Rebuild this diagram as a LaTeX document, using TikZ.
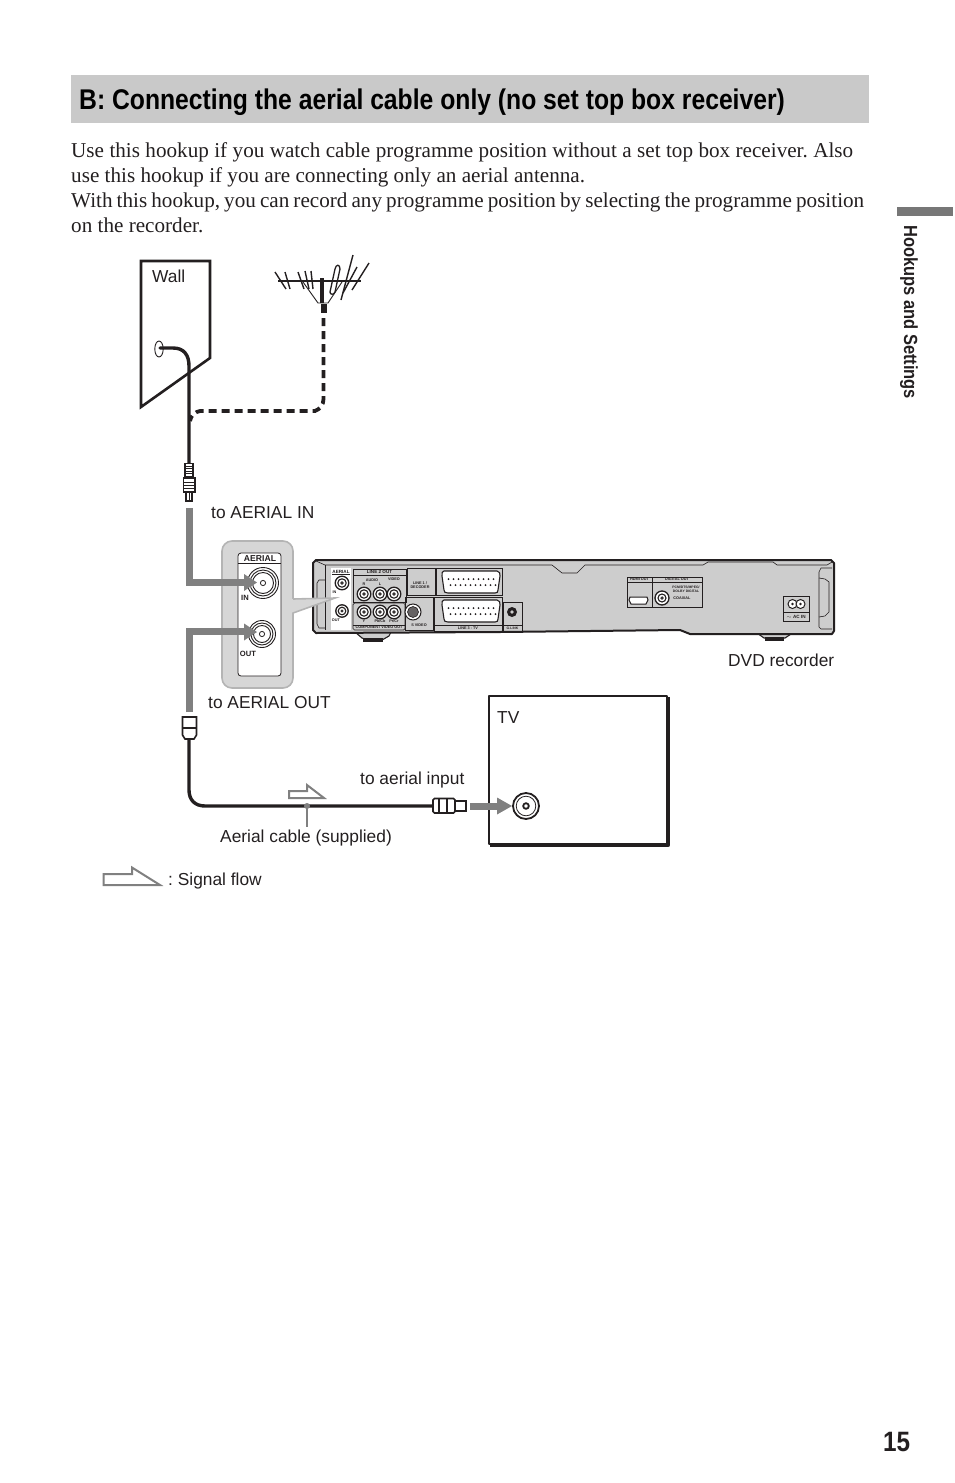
\documentclass[tikz,border=0pt]{standalone}
\usepackage{fontspec}
\setmainfont{Liberation Sans}
\newfontfamily\bodyfont{Liberation Serif}
\newfontfamily\headfont[FakeStretch=0.867]{Liberation Sans Bold}
\usetikzlibrary{arrows.meta}
\definecolor{barfill}{HTML}{C9C9C9}
\definecolor{sidebar}{HTML}{777777}
\definecolor{flow}{HTML}{808080}
\definecolor{panel}{HTML}{D6D6D6}
\definecolor{panelline}{HTML}{B4B4B4}
\definecolor{case}{HTML}{CDCDCD}
\definecolor{ink}{HTML}{231F20}
\newcommand{\jackmark}[3]{% centre, outer radius, inner radius
  \fill[white,draw=ink,line width=1.3pt] (#1) circle (#2);
  \draw[ink,line width=1.1pt] (#1) circle (#3);
  \draw[ink,line width=.8pt] (#1) circle (#3*.3);}
\tikzset{
  body/.style={font=\fontsize{21.15}{25}\bodyfont,anchor=base west,inner sep=0pt,text=ink},
  lab/.style={font=\fontsize{17.35}{20}\selectfont,anchor=base west,inner sep=0pt,text=ink},
  tiny/.style={font=\fontsize{4.6}{5.2}\selectfont\bfseries,inner sep=0pt,text=ink,align=center},
  micro/.style={font=\fontsize{3.8}{4.2}\selectfont\bfseries,inner sep=0pt,text=ink,align=center},
  cablewire/.style={ink,line width=3.4pt,line cap=round},
  dashwire/.style={ink,line width=3.8pt,dash pattern=on 8pt off 5pt},
  flowline/.style={flow,line width=7pt},
  flowhead/.style={fill=flow,draw=none},
  outline/.style={draw=flow,fill=white,line width=2pt,line join=miter},
  thinbox/.style={draw=ink,line width=.7pt},
  plugpart/.style={draw=ink,fill=white,line width=1.3pt},
}
\frenchspacing
\begin{document}
\begin{tikzpicture}[x=1pt,y=-1pt]
\useasboundingbox (0,0) rectangle (954,1483);
% heading and text
\fill[barfill] (71,75) rectangle (869,123);
\node[anchor=base west,inner sep=0pt,font=\fontsize{28.5}{30}\headfont,text=black] (title) at (79,109) {B: Connecting the aerial cable only (no set top box receiver)};
\node[body] (l1) at (71,157) {\makebox[782pt][s]{Use this hookup if you watch cable programme position without a set top box receiver. Also}};
\node[body] (l2) at (71,182) {use this hookup if you are connecting only an aerial antenna.};
\node[body] (l3) at (71,207) {\makebox[793pt][s]{With this hookup, you can record any programme position by selecting the programme position}};
\node[body] (l4) at (71,232) {on the recorder.};
\fill[sidebar] (897,207) rectangle (953,216);
\node[rotate=-90,anchor=base west,inner sep=0pt,font=\fontsize{19}{20}\headfont,text=ink] (side) at (904,225) {Hookups and Settings};
\node[anchor=base west,inner sep=0pt,font=\fontsize{28}{30}\headfont,text=ink] (page) at (883,1451) {15};

% wall
\draw[ink,line width=2.6pt,line join=miter] (141,261) -- (210,261) -- (210,358) -- (141,407) -- cycle;
\node[lab,anchor=base west] (wall) at (152,282) {Wall};
\draw[ink,line width=.9pt,fill=white] (159,349) ellipse (4.2 and 8);
\coordinate (hole) at (160,348);
\coordinate (plugin) at (189,464);
\draw[cablewire] (hole) -- (173,348) .. controls (184,348) and (189,355) .. (189,366) -- (plugin);
\draw[plugpart] (185,463.5) rectangle (193,477);
\foreach \yy in {466,468.5,471,473.5} \draw[ink,line width=.7pt] (185,\yy) -- (193,\yy);
\draw[plugpart] (183.5,478) rectangle (195,492);
\foreach \yy in {482,485,488} \draw[ink,line width=.7pt] (183.5,\yy) -- (195,\yy);
\draw[plugpart] (186,492) rectangle (192,501);
\draw[ink,line width=.7pt] (189,492) -- (189,501);

% antenna
\draw[ink,line width=1.5pt] (278,281) -- (361,281);
\foreach \xa/\ya/\xb/\yb in {275/272/286/289, 285/272/290/289, 298/272/304/289, 305/271/309/289, 311/271/313/289, 353/255/341/300, 357/267/343/293, 369/263/352/290}
  \draw[ink,line width=1.4pt] (\xa,\ya) -- (\xb,\yb);
\draw[ink,line width=1.3pt] (330,292) -- (335,269) .. controls (336,264) and (340,264) .. (340,269) -- (335,292) .. controls (334,295) and (330,295) .. (330,292);
\draw[ink,line width=.9pt] (303,282) -- (318,303) -- (328,303) -- (342,282);
\draw[ink,line width=3.4pt] (322,278) -- (322,303);
\coordinate (mast) at (323.5,304);
\coordinate (wirejoin) at (190,421);
\draw[ink,line width=6pt] (mast) -- (323.5,313);
\draw[dashwire] (323.5,318) -- (323.5,399) .. controls (323.5,405) and (320,409) .. (315,411) -- (200,411) .. controls (195,412) and (191,415) .. (wirejoin);

% recorder
\draw[ink,fill=case,line width=1.1pt] (355,632) -- (362,638) -- (368,640) -- (382,640) -- (389,636) -- (391,632) -- cycle;
\fill[ink] (363,638) rectangle (383,641.5);
\draw[ink,fill=case,line width=1.1pt] (757,633) -- (764,638) -- (785,638) -- (791,634) -- cycle;
\fill[ink] (765,637) rectangle (784,640.5);
\draw[ink,fill=case,line width=2pt,line join=round] (316,560) -- (831,560) -- (834,563) -- (834,631) -- (832,634) -- (690,634) -- (680,630) -- (500,632) -- (316,633) -- (313,630) -- (313,563) -- cycle;
\draw[ink,line width=.6pt] (316,561) -- (325,565) -- (552,565) -- (562,573) -- (577,573) -- (585,565) -- (703,565) -- (708,562) -- (773,562) -- (777,565) -- (827,565) -- (832,562);
\draw[ink,line width=.6pt] (325,580) -- (319,580) -- (317,583) -- (317,624) -- (319,628) -- (325,628);
\draw[ink,line width=.6pt] (325,565) -- (325,630);
\draw[ink,line width=.6pt] (832,568) -- (821,568) -- (819,572) -- (819,627) -- (821,629) -- (832,629);
\draw[ink,line width=.6pt] (819,578) -- (825,579) -- (829,582) -- (829,612) -- (825,616) -- (819,617);
% aerial strip
\fill[white] (331,568) rectangle (351,630);
\node[tiny] (raerial) at (341,571.5) {AERIAL};
\draw[ink,line width=.5pt] (332,574) -- (350,574);
\jackmark{342,583}{6.8}{4.2}
\jackmark{342,611}{6.2}{3.8}
\node[micro] (rin) at (334.5,592) {IN};
\node[micro] (rout) at (336,620) {OUT};
% line 2 out
\draw[thinbox] (353,569) rectangle (406,602);
\draw[thinbox] (353,575) -- (406,575);
\node[tiny] (rline2) at (379.5,572) {LINE 2 OUT};
\node[micro] (raudio) at (372,580) {AUDIO};
\node[micro] (rvideo) at (394,579.5) {VIDEO};
\node[micro] (rr) at (364,584.5) {R};
\node[micro] (rl) at (380,584.5) {L};
\draw[thinbox,rounded corners=1.5pt] (353,603) rectangle (405,630);
\draw[thinbox] (353,625) -- (405,625);
\node[micro] (rcomp) at (379,627.5) {COMPONENT VIDEO OUT};
\foreach \cx in {364,380,394}{\jackmark{\cx,594}{6.8}{4.2}\jackmark{\cx,612}{6.8}{4.2}}
\node[micro] (ry) at (364,621.5) {Y};
\node[micro] (rpb) at (380,621.5) {P\textsc{b}/C\textsc{b}};
\node[micro] (rpr) at (394,621.5) {P\textsc{r}/C\textsc{r}};
\draw[thinbox] (405,597) rectangle (433,630);
\draw[ink,line width=1pt,fill=white] (413,612) circle (8);
\draw[ink,line width=.6pt,fill=ink!70] (413,612) circle (5.5);
\node[micro] (rsvid) at (419,625) {S VIDEO};
% line 1
\draw[thinbox] (407,568) -- (435,568) -- (435,595) -- (407,595) -- cycle;
\node[micro,align=center] (rline1) at (420,585) {LINE 1 /\\DECODER};
% scart
\draw[thinbox] (436,568) rectangle (502,595);
\draw[thinbox] (434,597) rectangle (502,631);
\draw[ink,line width=.6pt] (434,625) -- (502,625);
\node[micro] (rline3) at (468,628) {LINE 3 - TV};
\foreach \sy in {582,611}{
  \draw[ink,line width=1.1pt,fill=white] (444,\sy-11) -- (497,\sy-11) .. controls (500,\sy-11) and (500,\sy-8) .. (500,\sy-6) -- (498,\sy+8) .. controls (498,\sy+10) and (497,\sy+11) .. (495,\sy+11) -- (448,\sy+11) .. controls (445,\sy+11) and (444,\sy+10) .. (444,\sy+8) -- (442,\sy-6) .. controls (442,\sy-9) and (442,\sy-11) .. (444,\sy-11) -- cycle;
  \foreach \px in {0,1,...,9}{
    \fill[ink] (448.5+\px*5,\sy-3) circle (1);
    \fill[ink] (450.5+\px*5,\sy+3) circle (1);}
}
% g-link
\draw[thinbox] (503,602) rectangle (522,631);
\draw[ink,line width=.6pt] (503,625) -- (522,625);
\fill[ink] (512,612) circle (5);
\fill[case] (512,612) circle (1.8);
\node[font=\fontsize{3.4}{4}\selectfont\bfseries,inner sep=0pt,text=ink] (rglink) at (512.5,628) {G-LINK};
% hdmi & digital
\draw[thinbox] (627,577) rectangle (652,607);
\draw[thinbox] (627,582) -- (652,582);
\node[micro] (rhdmi) at (639.5,579.5) {HDMI OUT};
\draw[ink,line width=1pt,fill=white] (630,597) -- (647,597) -- (648,600) -- (646,604) -- (631,604) -- (629,600) -- cycle;
\draw[thinbox] (652,577) rectangle (702,607);
\draw[thinbox] (652,582) -- (702,582);
\node[micro] (rdig) at (677,579.5) {DIGITAL OUT};
\jackmark{662,598}{7}{4}
\node[font=\fontsize{3.4}{3.9}\selectfont\bfseries,inner sep=0pt,text=ink,align=center] (rpcm) at (686,589) {PCM/DTS/MPEG/\\DOLBY DIGITAL};
\node[micro] (rcoax) at (682,598) {COAXIAL};
% ac in
\draw[thinbox] (783,596) rectangle (809,621);
\draw[thinbox] (783,612) -- (809,612);
\node[tiny] (rac) at (796,616.5) {$\sim$ AC IN};
\draw[ink,line width=1pt,fill=white] (792.5,604) circle (4.5);
\draw[ink,line width=1pt,fill=white] (800.5,604) circle (4.5);
\fill[ink] (792.5,604) circle (1.3);
\fill[ink] (800.5,604) circle (1.3);

% enlarged panel
\draw[panelline,fill=panel,line width=1.6pt,rounded corners=10pt] (222,541) rectangle (293,688);
\fill[panel] (291,599) -- (335,598) -- (291,613) -- cycle;
\draw[panelline,line width=1.6pt] (293,599) -- (335,598) -- (293,613);
\draw[ink,line width=.8pt,fill=white,rounded corners=3pt] (238,553) rectangle (281,676);
\draw[ink,line width=.8pt] (238,563) -- (281,563);
\node[font=\fontsize{8.6}{9}\selectfont\bfseries,inner sep=0pt,text=ink] (paerial) at (260,558.5) {AERIAL};
\draw[ink,line width=.9pt,fill=white] (263,583) circle (15.5);
\draw[ink,line width=.9pt] (263,583) circle (13);
\draw[ink,line width=.9pt] (263,583) circle (10.5);
\draw[ink,line width=.8pt] (263,583) circle (2.6);
\draw[ink,line width=.9pt,fill=white] (262,634) circle (13.5);
\draw[ink,line width=.9pt] (262,634) circle (11);
\draw[ink,line width=.9pt] (262,634) circle (8.5);
\draw[ink,line width=.8pt] (262,634) circle (2.6);
\node[font=\fontsize{7.6}{8}\selectfont\bfseries,inner sep=0pt,text=ink] (pin) at (245,598) {IN};
\node[font=\fontsize{7.6}{8}\selectfont\bfseries,inner sep=0pt,text=ink] (pout) at (248,654) {OUT};

% flow arrows
\coordinate (inA) at (189.5,508);
\coordinate (inB) at (246,582.5);
\draw[flowline] (inA) -- (189.5,582.5) -- (inB);
\fill[flowhead] (244,574) -- (257,582.5) -- (244,591) -- cycle;
\coordinate (outA) at (189.5,712);
\coordinate (outB) at (246,631.5);
\draw[flowline] (outA) -- (189.5,631.5) -- (outB);
\fill[flowhead] (244,623.5) -- (257,632) -- (244,640.5) -- cycle;
\coordinate (tvA) at (470,806);
\coordinate (tvB) at (499,806);

% lower cable
\coordinate (plugtop) at (189,738);
\coordinate (plugright) at (434,806);
\draw[cablewire] (plugtop) -- (189,790) .. controls (189,800) and (195,806) .. (205,806) -- (plugright);
\draw[plugpart,line width=1.6pt] (182.5,717) -- (196.5,717) -- (196.5,735) -- (194,739) -- (185,739) -- (182.5,735) -- cycle;
\draw[ink,line width=1.2pt] (182.5,728) -- (196.5,728);
\draw[plugpart,line width=1.6pt,rounded corners=1.5pt] (433,798.5) rectangle (455,813);
\draw[ink,line width=1.2pt] (439,798.5) -- (439,813);
\draw[ink,line width=1.2pt] (447,798.5) -- (447,813);
\draw[plugpart,line width=1.6pt] (455,801) rectangle (466,811);

% TV
\draw[ink,line width=2.4pt,line join=round] (489,696) rectangle (667,844);
\draw[ink,line width=4.4pt,line join=round] (668,697) -- (668,845) -- (490,845);
\node[lab] (tv) at (497,723) {TV};
\draw[flowline] (tvA) -- (tvB);
\fill[flowhead] (497,797.5) -- (512,806) -- (497,814.5) -- cycle;
\draw[ink,line width=1.8pt,fill=white] (526,806) circle (13);
\draw[ink,line width=.8pt] (526,806) circle (9.8);
\draw[ink,line width=1.8pt] (526,806) circle (2.8);

% signal flow marks
\draw[outline] (289,791) -- (307,791) -- (307,785) -- (324,798) -- (289,798) -- cycle;
\coordinate (cabledot) at (307,806);
\coordinate (cablelabel) at (307,827);
\fill[flow] (cabledot) circle (3);
\draw[flow,line width=2pt] (cabledot) -- (cablelabel);
\draw[outline] (103.5,874) -- (132,874) -- (132,867.5) -- (160,885) -- (103.5,885) -- cycle;

% labels
\node[lab] (toin) at (211,518) {to AERIAL IN};
\node[lab] (toout) at (208,708) {to AERIAL OUT};
\node[lab] (dvd) at (728,666) {DVD recorder};
\node[lab] (toinput) at (360,784) {to aerial input};
\node[lab] (cablename) at (220,842) {Aerial cable (supplied)};
\node[lab] (legend) at (168,885) {: Signal flow};
\end{tikzpicture}
\end{document}
